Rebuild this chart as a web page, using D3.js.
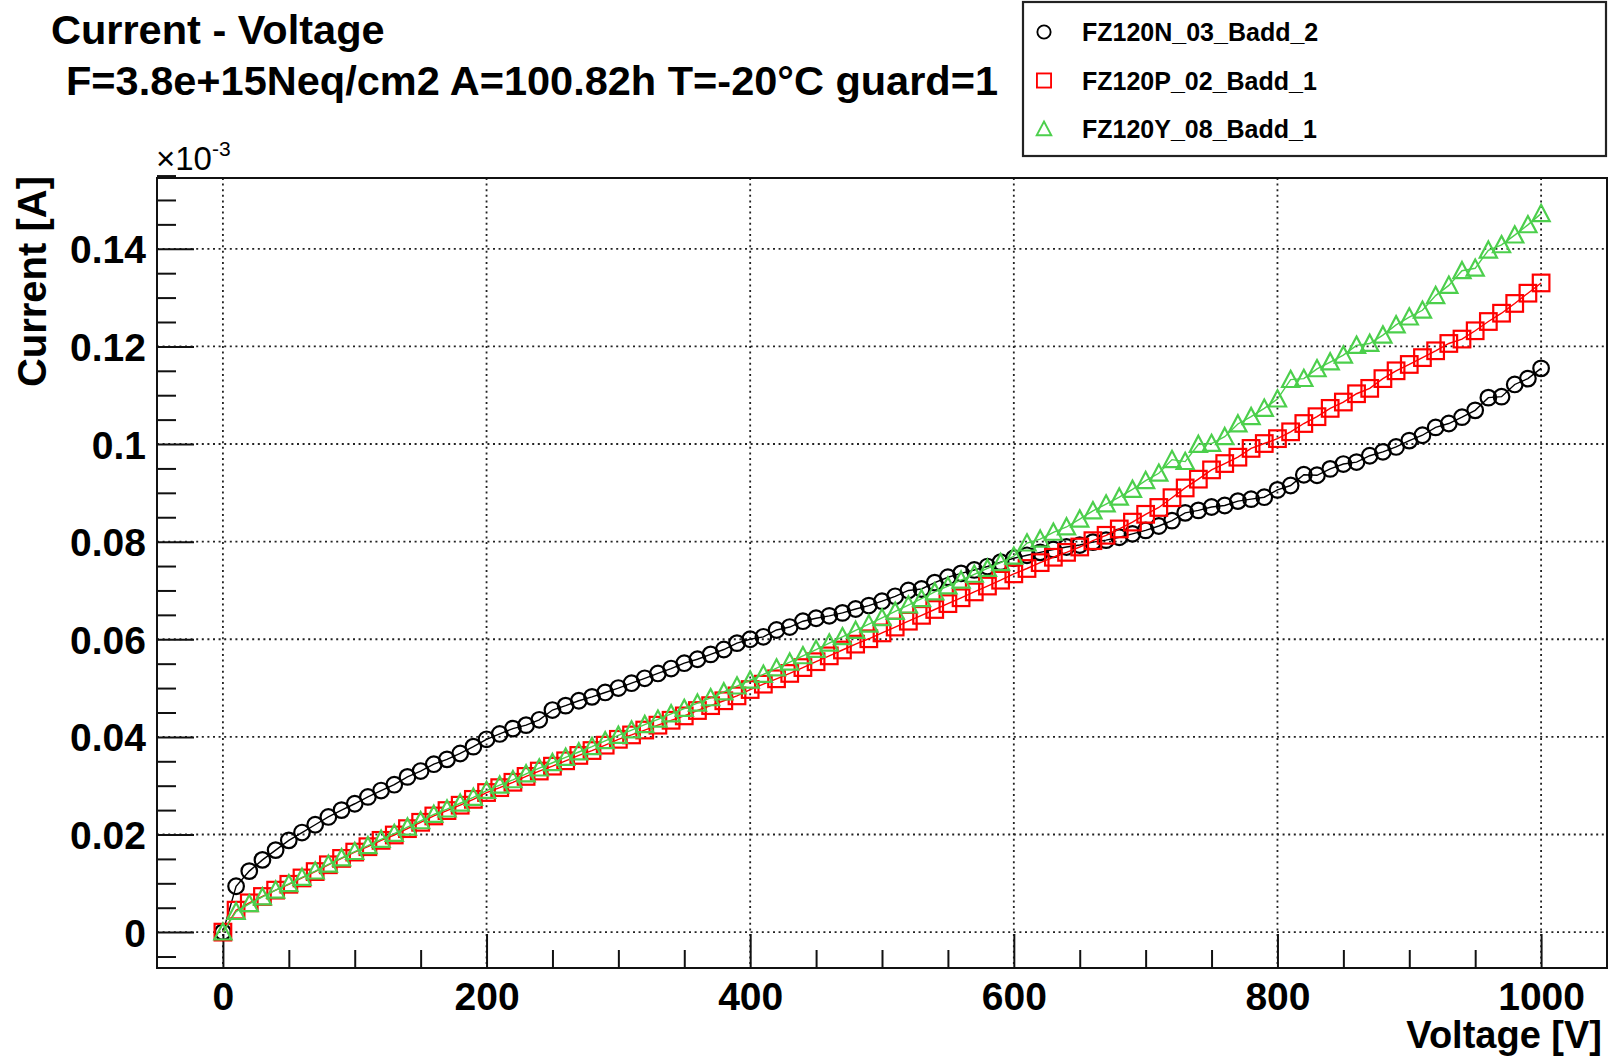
<!DOCTYPE html>
<html>
<head>
<meta charset="utf-8">
<title>Current - Voltage</title>
<script src="https://d3js.org/d3.v7.min.js"></script>
<style>
  html, body { margin: 0; padding: 0; background: #fff; }
  svg { display: block; font-family: "Liberation Sans", Arial, Helvetica, sans-serif; font-weight: bold; }
</style>
</head>
<body>
<svg id="chart" width="1608" height="1058"></svg>
<script>
// bias voltage [V], same for all three sensors
var voltage = [0,10,20,30,40,50,60,70,80,90,100,110,120,130,140,150,160,170,180,190,
  200,210,220,230,240,250,260,270,280,290,300,310,320,330,340,350,360,370,380,390,
  400,410,420,430,440,450,460,470,480,490,500,510,520,530,540,550,560,570,580,590,
  600,610,620,630,640,650,660,670,680,690,700,710,720,730,740,750,760,770,780,790,
  800,810,820,830,840,850,860,870,880,890,900,910,920,930,940,950,960,970,980,990,1000];

// current in units of 1e-3 A
var curN03 = [0,0.0094,0.0125,0.0148,0.0168,0.0188,0.0204,0.0220,0.0236,0.0250,
  0.0263,0.0277,0.0290,0.0302,0.0318,0.0330,0.0344,0.0354,0.0366,0.0380,
  0.0395,0.0406,0.0417,0.0424,0.0435,0.0455,0.0464,0.0474,0.0482,0.0491,
  0.0500,0.0510,0.0520,0.0530,0.0540,0.0551,0.0559,0.0569,0.0579,0.0592,
  0.0600,0.0605,0.0619,0.0625,0.0637,0.0643,0.0648,0.0654,0.0662,0.0669,
  0.0678,0.0688,0.0700,0.0703,0.0716,0.0727,0.0735,0.0742,0.0749,0.0758,
  0.0766,0.0772,0.0778,0.0784,0.0789,0.0793,0.0799,0.0803,0.0809,0.0816,
  0.0823,0.0832,0.0843,0.0859,0.0864,0.0871,0.0874,0.0883,0.0887,0.0891,
  0.0906,0.0915,0.0937,0.0936,0.0949,0.0959,0.0963,0.0976,0.0984,0.0994,
  0.1007,0.1018,0.1034,0.1042,0.1055,0.1069,0.1095,0.1097,0.1122,0.1134,0.1155];

var curP02 = [0,0.0045,0.0060,0.0073,0.0086,0.0098,0.0111,0.0124,0.0138,0.0151,
  0.0164,0.0175,0.0188,0.0199,0.0212,0.0225,0.0238,0.0249,0.0260,0.0272,
  0.0286,0.0296,0.0307,0.0319,0.0330,0.0340,0.0351,0.0362,0.0372,0.0383,
  0.0395,0.0404,0.0414,0.0424,0.0434,0.0443,0.0454,0.0464,0.0474,0.0484,
  0.0497,0.0508,0.0519,0.0530,0.0542,0.0554,0.0566,0.0578,0.0590,0.0601,
  0.0613,0.0625,0.0637,0.0649,0.0661,0.0673,0.0685,0.0697,0.0709,0.0721,
  0.0734,0.0745,0.0757,0.0768,0.0778,0.0789,0.0802,0.0813,0.0826,0.0840,
  0.0856,0.0870,0.0890,0.0910,0.0928,0.0947,0.0960,0.0973,0.0991,0.1001,
  0.1011,0.1025,0.1042,0.1056,0.1073,0.1086,0.1103,0.1114,0.1134,0.1150,
  0.1163,0.1177,0.1191,0.1206,0.1215,0.1232,0.1251,0.1268,0.1288,0.1309,0.1330];

var curY08 = [0,0.0042,0.0058,0.0072,0.0086,0.0099,0.0112,0.0125,0.0139,0.0152,
  0.0165,0.0177,0.0190,0.0202,0.0215,0.0228,0.0241,0.0252,0.0264,0.0276,
  0.0290,0.0301,0.0312,0.0324,0.0336,0.0347,0.0358,0.0369,0.0380,0.0392,
  0.0403,0.0414,0.0425,0.0436,0.0447,0.0458,0.0469,0.0480,0.0492,0.0504,
  0.0516,0.0528,0.0541,0.0553,0.0566,0.0579,0.0592,0.0605,0.0618,0.0631,
  0.0644,0.0657,0.0670,0.0683,0.0697,0.0709,0.0721,0.0733,0.0745,0.0757,
  0.0770,0.0797,0.0805,0.0819,0.0830,0.0846,0.0863,0.0877,0.0891,0.0907,
  0.0925,0.0940,0.0968,0.0964,0.0999,0.1001,0.1015,0.1041,0.1056,0.1073,
  0.1092,0.1132,0.1134,0.1154,0.1168,0.1182,0.1202,0.1206,0.1223,0.1244,
  0.1260,0.1274,0.1304,0.1325,0.1355,0.1360,0.1397,0.1408,0.1428,0.1449,0.1472];

var seriesNames = ["FZ120N_03_Badd_2", "FZ120P_02_Badd_1", "FZ120Y_08_Badd_1"];
var xTicks = [0, 200, 400, 600, 800, 1000];
var yTicks = [0, 0.02, 0.04, 0.06, 0.08, 0.1, 0.12, 0.14];
var yTickLabels = ["0", "0.02", "0.04", "0.06", "0.08", "0.1", "0.12", "0.14"];

var svg = d3.select("#chart");
var frame = {left: 157, top: 178, right: 1607, bottom: 968};

var x = d3.scaleLinear().domain([-50, 1050]).range([frame.left, frame.right]);
var y = d3.scaleLinear().domain([-0.00735, 0.1545]).range([frame.bottom, frame.top]);

var colors = ["#000000", "#ff0000", "#4ccf4c"];
var shapes = ["circle", "square", "triangle"];
var allSeries = [curN03, curP02, curY08];

// dotted grid
var grid = svg.append("g").attr("stroke", "#222").attr("stroke-width", 1.8)
    .attr("stroke-dasharray", "2,3.6");
grid.selectAll("line.gx").data(xTicks).enter().append("line")
    .attr("x1", function(d) { return x(d); }).attr("x2", function(d) { return x(d); })
    .attr("y1", frame.top).attr("y2", frame.bottom);
grid.selectAll("line.gy").data(yTicks).enter().append("line")
    .attr("x1", frame.left).attr("x2", frame.right)
    .attr("y1", function(d) { return y(d); }).attr("y2", function(d) { return y(d); });

// axes, ROOT style ticks inside the frame
var xMinor = d3.range(0, 1051, 50).filter(function(d) { return d % 200 != 0; });
var yMinor = d3.range(-0.005, 0.1551, 0.005).filter(function(d) {
  return Math.abs(d / 0.02 - Math.round(d / 0.02)) > 1e-6; });

var xAxis = svg.append("g").attr("transform", "translate(0," + frame.bottom + ")")
    .call(d3.axisBottom(x).tickValues(xTicks).tickSize(-34).tickPadding(42)
      .tickFormat(d3.format("d")));
xAxis.append("g").call(d3.axisBottom(x).tickValues(xMinor).tickSize(-18).tickFormat(""));

var yAxis = svg.append("g").attr("transform", "translate(" + frame.left + ",0)")
    .call(d3.axisLeft(y).tickValues(yTicks).tickSize(-37).tickPadding(11)
      .tickFormat(function(d, i) { return yTickLabels[i]; }));
yAxis.append("g").call(d3.axisLeft(y).tickValues(yMinor).tickSize(-19).tickFormat(""));

svg.selectAll(".domain").remove();
svg.selectAll(".tick line").attr("stroke", "#111").attr("stroke-width", 2);
svg.selectAll(".tick text").attr("fill", "#000").attr("font-size", 39)
    .attr("font-family", "'Liberation Sans', Arial, sans-serif").attr("font-weight", "bold");
yAxis.selectAll(".tick text").attr("dy", "0.36em");
xAxis.selectAll(".tick text").attr("dy", 0);

// frame
svg.append("rect").attr("x", frame.left).attr("y", frame.top)
    .attr("width", frame.right - frame.left).attr("height", frame.bottom - frame.top)
    .attr("fill", "none").attr("stroke", "#111").attr("stroke-width", 2);

var line = d3.line()
    .x(function(d) { return x(d[0]); })
    .y(function(d) { return y(d[1]); });

function marker(sel, shape, color) {
  if (shape == "circle") {
    sel.append("circle").attr("r", 7.8);
  } else if (shape == "square") {
    sel.append("rect").attr("x", -8.3).attr("y", -8.3).attr("width", 16.6).attr("height", 16.6);
  } else {
    sel.append("path").attr("d", "M0,-8.8L8.6,7.4L-8.6,7.4Z");
  }
  sel.selectAll("*").attr("fill", "none").attr("stroke", color).attr("stroke-width", 2.2);
}

allSeries.forEach(function(vals, k) {
  var pts = voltage.map(function(v, i) { return [v, vals[i]]; });
  var g = svg.append("g");
  g.append("path").datum(pts).attr("d", line)
      .attr("fill", "none").attr("stroke", colors[k]).attr("stroke-width", 1.4);
  g.selectAll("g.m").data(pts).enter().append("g")
      .attr("transform", function(d) { return "translate(" + x(d[0]) + "," + y(d[1]) + ")"; })
      .each(function() { marker(d3.select(this), shapes[k], colors[k]); });
});

// titles
svg.append("text").attr("x", 51).attr("y", 44).attr("font-size", 41.5).text("Current - Voltage");
svg.append("text").attr("x", 66).attr("y", 95).attr("font-size", 41.5)
    .text("F=3.8e+15Neq/cm2 A=100.82h T=-20\u00B0C guard=1");

var expo = svg.append("text").attr("x", 156).attr("y", 170).attr("font-size", 33)
    .attr("font-weight", "normal");
expo.append("tspan").text("\u00D710");
expo.append("tspan").attr("dy", -14).attr("font-size", 21).text("-3");

svg.append("text").attr("transform", "translate(46,176) rotate(-90)")
    .attr("text-anchor", "end").attr("font-size", 40).text("Current [A]");
svg.append("text").attr("x", 1602).attr("y", 1048).attr("text-anchor", "end")
    .attr("font-size", 38).text("Voltage [V]");

// legend
var leg = svg.append("g");
leg.append("rect").attr("x", 1023).attr("y", 2).attr("width", 583).attr("height", 154)
    .attr("fill", "#fff").attr("stroke", "#222").attr("stroke-width", 2.2);
seriesNames.forEach(function(name, k) {
  var ry = 32 + k * 48.5;
  var m = leg.append("g").attr("transform", "translate(1044," + ry + ")");
  marker(m, shapes[k], colors[k]);
  m.selectAll("*").attr("transform", "scale(0.85)").attr("stroke-width", 2.2);
  leg.append("text").attr("x", 1082).attr("y", ry + 9).attr("font-size", 25).text(name);
});
</script>
</body>
</html>
